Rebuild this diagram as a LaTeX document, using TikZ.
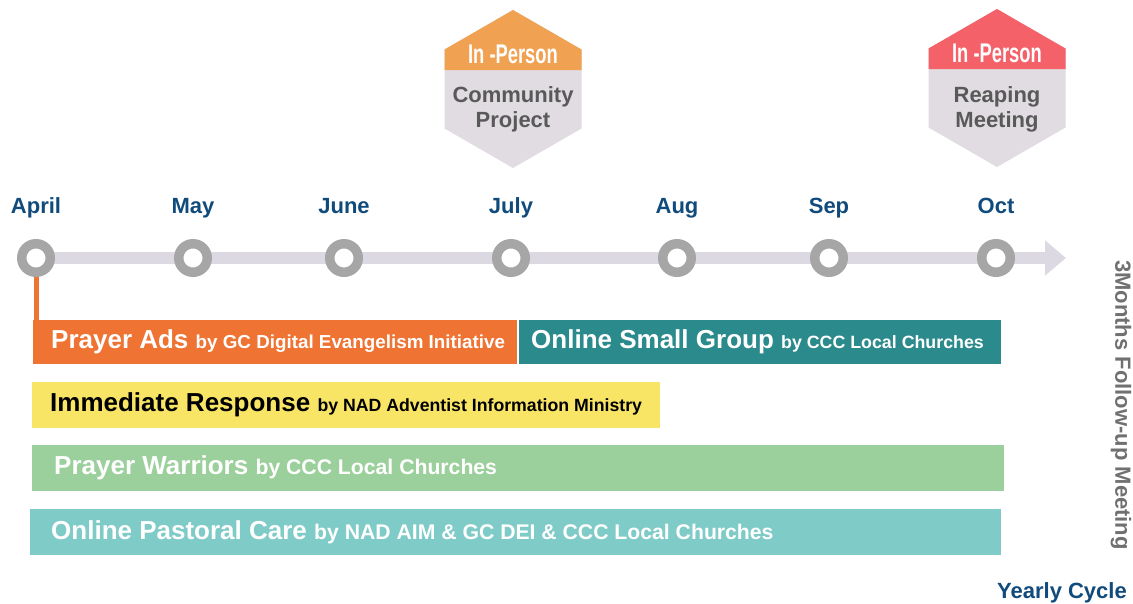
\documentclass[tikz,border=0pt]{standalone}
\usepackage{fontspec}
\setmainfont{Liberation Sans}
\usetikzlibrary{arrows.meta, positioning}

\definecolor{padsorange}{HTML}{EF7332}
\definecolor{groupteal}{HTML}{2B8A8B}
\definecolor{respyellow}{HTML}{F8E566}
\definecolor{warriorgreen}{HTML}{9BCF9B}
\definecolor{careteal}{HTML}{7FCBC8}
\definecolor{monthblue}{HTML}{114B7C}
\definecolor{ringgray}{HTML}{A6A6A6}
\definecolor{linelav}{HTML}{DDD9E3}
\definecolor{hexgray}{HTML}{E0DCE1}
\definecolor{hexorange}{HTML}{F0A152}
\definecolor{hexred}{HTML}{F46168}
\definecolor{hexdark}{HTML}{595959}
\definecolor{followgray}{HTML}{707070}

\newcommand{\subtxt}[2][18.5]{{\fontsize{#1}{22}\selectfont #2}}

\begin{document}
\begin{tikzpicture}[x=1pt, y=-1pt,
    ring/.style={circle, draw=ringgray, line width=9.5pt, fill=white, minimum size=28.5pt, inner sep=0pt},
    month/.style={text=monthblue, font=\fontsize{22}{26}\selectfont\bfseries, inner sep=0pt},
    bar/.style={anchor=west, minimum height=46pt, inner sep=0pt},
    bartxt/.style={anchor=west, inner sep=0pt, text=white, font=\fontsize{26}{30}\selectfont\bfseries},
    hextxt/.style={text=hexdark, align=center, font=\fontsize{22}{25.5}\selectfont\bfseries},
    intxt/.style={text=white, inner sep=0pt, font=\fontsize{27}{30}\selectfont\bfseries}]
    \useasboundingbox (0,0) rectangle (1133,603);

    % in-person hexagons
    \fill[hexgray] (513,10) -- ++(68.5,39.5) -- ++(0,79) -- ++(-68.5,39.5) -- ++(-68.5,-39.5) -- ++(0,-79) -- cycle;
    \fill[hexorange] (444.5,70) -- (444.5,49.5) -- (513,10) -- (581.5,49.5) -- (581.5,70) -- cycle;
    \node[intxt] (inperson1) at (513,54) {\scalebox{0.68}[1]{In -Person}};
    \node[hextxt] (commproj) at (513,109.5) {Community\\Project};

    \fill[hexgray] (997,9) -- ++(68.5,39.5) -- ++(0,79) -- ++(-68.5,39.5) -- ++(-68.5,-39.5) -- ++(0,-79) -- cycle;
    \fill[hexred] (928.5,69) -- (928.5,48.5) -- (997,9) -- (1065.5,48.5) -- (1065.5,69) -- cycle;
    \node[intxt] (inperson2) at (997,53) {\scalebox{0.68}[1]{In -Person}};
    \node[hextxt] (reaping) at (997,109.5) {Reaping\\Meeting};

    % timeline
    \coordinate (start) at (36,258);
    \coordinate (tip) at (1066,258);
    \draw[linelav, line width=12pt, -{Triangle[length=21pt, width=34pt]}] (start) -- (tip);
    \foreach \m/\x [count=\i] in {April/36, May/193, June/344, July/511, Aug/677, Sep/829, Oct/996} {
        \node[ring] (m\i) at (\x,258) {};
        \node[month, anchor=base] (l\i) at (\x,213) {\m};
    }

    % bars
    \node[bar, fill=padsorange, minimum width=484pt, minimum height=44pt] (pads) at (33,342) {};
    \node[bartxt, right=18pt of pads.west] (padstxt) {Prayer Ads \subtxt[18.8]{by GC Digital Evangelism Initiative}};
    \draw[padsorange, line width=5pt] (m1.south) -- (m1.south |- pads.north);

    \node[bar, fill=groupteal, minimum width=482pt, minimum height=44pt] (group) at (519,342) {};
    \node[bartxt, right=12pt of group.west] (grouptxt) {Online Small Group \subtxt[17.8]{by CCC Local Churches}};

    \node[bar, fill=respyellow, minimum width=628pt] (resp) at (32,405) {};
    \node[bartxt, text=black, right=18pt of resp.west] (resptxt) {Immediate Response \subtxt[17.7]{by NAD Adventist Information Ministry}};

    \node[bar, fill=warriorgreen, minimum width=972pt] (warriors) at (32,468) {};
    \node[bartxt, right=22pt of warriors.west] (warriorstxt) {Prayer Warriors \subtxt[21.2]{by CCC Local Churches}};

    \node[bar, fill=careteal, minimum width=971pt] (care) at (30,532) {};
    \node[bartxt, right=21pt of care.west] (caretxt) {Online Pastoral Care \subtxt[21.2]{by NAD AIM \& GC DEI \& CCC Local Churches}};

    % side and bottom notes
    \node[rotate=-90, text=followgray, inner sep=0pt, font=\fontsize{22}{26}\selectfont\bfseries] (followup) at (1121,405) {3Months Follow-up Meeting};
    \node[month, anchor=base east] (cycle) at (1127,598) {Yearly Cycle};
\end{tikzpicture}
\end{document}
